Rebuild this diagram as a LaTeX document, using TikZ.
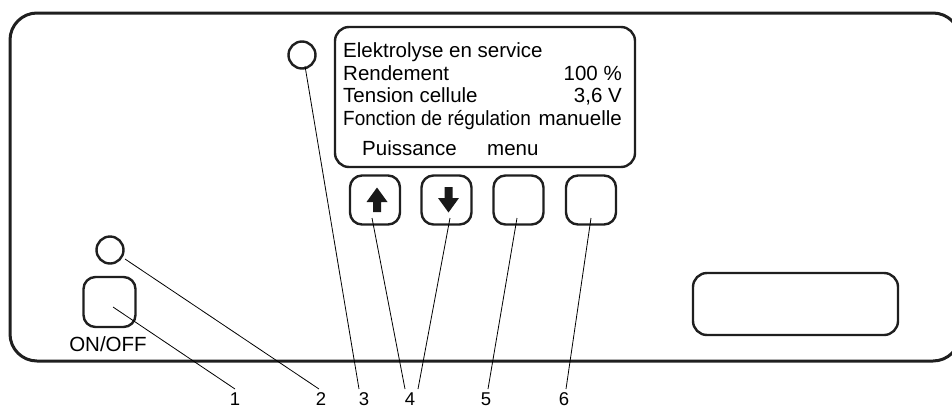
\documentclass[tikz,border=0pt]{standalone}
\usepackage{fontspec}
\setmainfont{Liberation Sans}
\begin{document}
\begin{tikzpicture}[x=1pt,y=-1pt,
  frame/.style={draw=black!88,line width=3pt,rounded corners=27pt},
  box/.style={draw=black!88,line width=2.4pt,rounded corners=14pt},
  btn/.style={draw=black!88,line width=2.4pt,rounded corners=12pt,minimum width=50pt,minimum height=49pt,inner sep=0pt},
  led/.style={draw=black!88,line width=2.4pt,circle,minimum size=27pt,inner sep=0pt},
  leader/.style={draw=black,line width=0.8pt},
  disp/.style={font=\fontsize{20.5}{22}\selectfont,inner sep=0pt},
  num/.style={font=\fontsize{18.5}{22}\selectfont,inner sep=0pt,anchor=base},
  arr/.style={fill=black!90}]
\useasboundingbox (0,0) rectangle (952,410);
% housing
\draw[frame] (10,13) rectangle (960,361);
% display
\node[box,minimum width=300pt,minimum height=140pt,inner sep=0pt] (display) at (485,97) {};
\node[disp,anchor=base west] (t1) at (343,57) {Elektrolyse en service};
\node[disp,anchor=base west] (t2) at (343,80) {Rendement};
\node[disp,anchor=base east] (v2) at (622,80) {100 \%};
\node[disp,anchor=base west] (t3) at (343,102.5) {Tension cellule};
\node[disp,anchor=base east] (v3) at (622,102.5) {3,6 V};
\node[disp,anchor=base west] (t4) at (343,125) {\scalebox{0.925}[1]{Fonction de régulation}};
\node[disp,anchor=base east] (v4) at (622,125) {manuelle};
\node[disp,anchor=base west] (t5) at (362,155) {Puissance};
\node[disp,anchor=base west] (t6) at (487,155) {menu};
% LEDs
\node[led] (led3) at (302,55) {};
\node[led] (led2) at (110,250) {};
% ON/OFF
\node[btn,minimum width=52pt,minimum height=50pt] (onoff) at (109.5,302) {};
\node[font=\fontsize{20.5}{22}\selectfont,inner sep=0pt,anchor=base] (onofft) at (108,351) {ON/OFF};
% buttons
\node[btn] (b1) at (375,200) {};
\node[btn] (b2) at (446.5,200) {};
\node[btn] (b3) at (518.5,200) {};
\node[btn] (b4) at (591,200) {};
\fill[arr] (377,187.5) -- (387.5,202) -- (381,202) -- (381,212) -- (373,212) -- (373,202) -- (366.5,202) -- cycle;
\fill[arr] (448.5,212.5) -- (459,198) -- (452.5,198) -- (452.5,187) -- (444.5,187) -- (444.5,198) -- (438,198) -- cycle;
% right window
\node[box,minimum width=205pt,minimum height=62pt,inner sep=0pt] (window) at (795.5,304) {};
% labels
\node[num] (n1) at (235,405) {1};
\node[num] (n2) at (321,405) {2};
\node[num] (n3) at (364,405) {3};
\node[num] (n4) at (410,405) {4};
\node[num] (n5) at (486,405) {5};
\node[num] (n6) at (564,405) {6};
% leader ends
\coordinate (s1) at (113,307);
\coordinate (e1) at (235,389);
\coordinate (s2) at (125,259);
\coordinate (e2) at (319,389);
\coordinate (s3) at (305,66);
\coordinate (e3) at (359,389);
\coordinate (s4a) at (372,218);
\coordinate (e4a) at (405,389);
\coordinate (s4b) at (450,218);
\coordinate (e4b) at (418,389);
\coordinate (s5) at (517,218);
\coordinate (e5) at (488,389);
\coordinate (s6) at (591,218);
\coordinate (e6) at (566,389);
\draw[leader] (s1) -- (e1);
\draw[leader] (s2) -- (e2);
\draw[leader] (s3) -- (e3);
\draw[leader] (s4a) -- (e4a);
\draw[leader] (s4b) -- (e4b);
\draw[leader] (s5) -- (e5);
\draw[leader] (s6) -- (e6);
\end{tikzpicture}
\end{document}
